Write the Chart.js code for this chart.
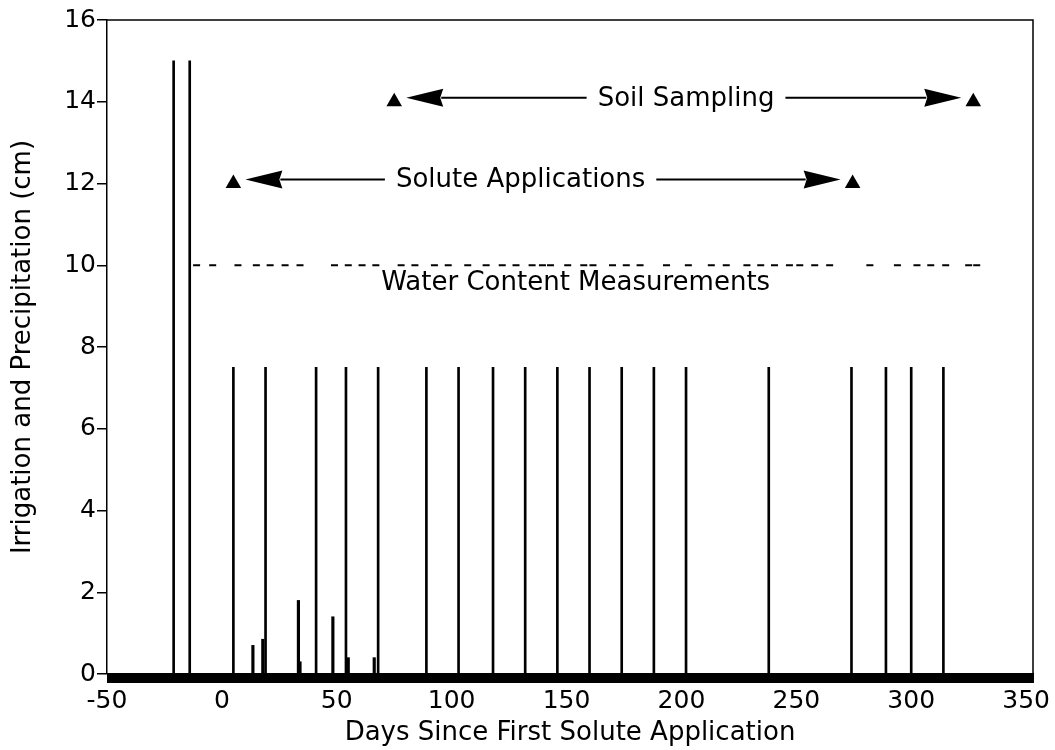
<!DOCTYPE html>
<html>
<head>
<meta charset="utf-8">
<script src="https://cdn.jsdelivr.net/npm/chart.js@4.4.1/dist/chart.umd.min.js"></script>
<style>
  html, body { margin: 0; padding: 0; background: #fff; }
  #wrap { width: 1055px; height: 750px; position: relative; }
</style>
</head>
<body>
<div id="wrap"><canvas id="c"></canvas></div>
<script>
// Pre-season irrigations (cm)
const preIrrigationDays = [-21, -14];
const preIrrigationDepths = [15, 15];

// Scheduled irrigations (cm)
const irrigationDays = [5, 19, 41, 54, 68, 89, 103, 118, 132, 146, 160, 174, 188, 202, 238, 274, 289, 300, 314];
const irrigationDepths = [7.5, 7.5, 7.5, 7.5, 7.5, 7.5, 7.5, 7.5, 7.5, 7.5, 7.5, 7.5, 7.5, 7.5, 7.5, 7.5, 7.5, 7.5, 7.5];

// Rainfall events (cm)
const rainDays = [13.5, 17.8, 33.3, 34, 48.3, 55, 66.3];
const rainDepths = [0.7, 0.85, 1.8, 0.3, 1.4, 0.4, 0.4];

// Solute application and soil sampling windows (days)
const soluteWindow = [5, 274.5];
const soluteLevel = 12;
const samplingWindow = [75, 327];
const samplingLevel = 14;

// Water content measurement days
const waterContentDays = [-11, -4, 7, 15, 21, 27.5, 34, 49, 55, 61, 67, 78, 84, 92.5, 98.5, 107, 115, 122, 128,
  135, 139.5, 143, 150.5, 157.5, 161.5, 170, 176, 182, 193.5, 203, 213, 219.5, 228.5, 234.5, 240.5, 247, 251.5,
  258, 264.5, 282, 294, 302.5, 308.5, 315, 325, 328.5];
const waterContentLevel = 10;

// Axis ranges and labels
const xRange = [-50, 353];
const xStep = 50;
const yRange = [0, 16];
const yStep = 2;
const xTitle = 'Days Since First Solute Application';
const yTitle = 'Irrigation and Precipitation (cm)';

const FONT = 'DejaVu Sans';

const toPts = (xs, ys) => xs.map((x, i) => ({ x: x, y: ys[i] }));

// Labelled arrows spanning each window
const periodLabels = [
  { text: 'Soil Sampling', window: samplingWindow, level: samplingLevel, labelDay: 202 },
  { text: 'Solute Applications', window: soluteWindow, level: soluteLevel, labelDay: 130 }
];
const waterLabel = { text: 'Water Content Measurements', labelDay: 154 };

const annotationPlugin = {
  id: 'periodArrows',
  afterDatasetsDraw(chart) {
    const { ctx, chartArea, scales } = chart;
    const xs = scales.x, ys = scales.y;
    ctx.save();
    ctx.fillStyle = '#000';
    ctx.strokeStyle = '#000';

    // frame: top and right edges, heavy base bar
    ctx.lineWidth = 1.5;
    ctx.beginPath();
    ctx.moveTo(chartArea.left, chartArea.top);
    ctx.lineTo(chartArea.right, chartArea.top);
    ctx.lineTo(chartArea.right, chartArea.bottom);
    ctx.stroke();
    ctx.fillRect(chartArea.left, chartArea.bottom - 1, chartArea.right - chartArea.left + 1, 10);

    ctx.font = '26px "' + FONT + '"';
    ctx.textBaseline = 'middle';
    ctx.textAlign = 'center';
    const headLen = 37, headHalf = 9, tipGap = 12, textGap = 11;
    periodLabels.forEach(p => {
      const y = ys.getPixelForValue(p.level) - 4;
      const tipL = xs.getPixelForValue(p.window[0]) + tipGap;
      const tipR = xs.getPixelForValue(p.window[1]) - tipGap;
      const tc = xs.getPixelForValue(p.labelDay);
      const w = ctx.measureText(p.text).width;
      ctx.fillText(p.text, tc, y + 1);
      ctx.lineWidth = 2;
      ctx.beginPath();
      ctx.moveTo(tipL + headLen - 2, y);
      ctx.lineTo(tc - w / 2 - textGap, y);
      ctx.moveTo(tc + w / 2 + textGap, y);
      ctx.lineTo(tipR - headLen + 2, y);
      ctx.stroke();
      ctx.beginPath();
      ctx.moveTo(tipL, y);
      ctx.lineTo(tipL + headLen, y - headHalf);
      ctx.lineTo(tipL + headLen - 3, y);
      ctx.lineTo(tipL + headLen, y + headHalf);
      ctx.closePath();
      ctx.fill();
      ctx.beginPath();
      ctx.moveTo(tipR, y);
      ctx.lineTo(tipR - headLen, y - headHalf);
      ctx.lineTo(tipR - headLen + 3, y);
      ctx.lineTo(tipR - headLen, y + headHalf);
      ctx.closePath();
      ctx.fill();
    });

    ctx.textBaseline = 'alphabetic';
    ctx.fillText(waterLabel.text, xs.getPixelForValue(waterLabel.labelDay), ys.getPixelForValue(waterContentLevel) + 25);
    ctx.restore();
  }
};

new Chart(document.getElementById('c'), {
  type: 'bar',
  data: {
    datasets: [
      {
        label: 'Pre-season irrigation',
        data: toPts(preIrrigationDays, preIrrigationDepths),
        backgroundColor: '#000', borderWidth: 0, barThickness: 2, grouped: false
      },
      {
        label: 'Irrigation',
        data: toPts(irrigationDays, irrigationDepths),
        backgroundColor: '#000', borderWidth: 0, barThickness: 2, grouped: false
      },
      {
        label: 'Precipitation',
        data: toPts(rainDays, rainDepths),
        backgroundColor: '#000', borderWidth: 0, barThickness: 2.5, grouped: false
      },
      {
        type: 'scatter',
        label: 'Window limits',
        data: [
          { x: soluteWindow[0], y: soluteLevel }, { x: soluteWindow[1], y: soluteLevel },
          { x: samplingWindow[0], y: samplingLevel }, { x: samplingWindow[1], y: samplingLevel }
        ],
        pointStyle: 'triangle', radius: 9, backgroundColor: '#000', borderColor: '#000', borderWidth: 0
      },
      {
        type: 'scatter',
        label: 'Water content',
        data: waterContentDays.map(d => ({ x: d, y: waterContentLevel })),
        pointStyle: 'line', radius: 3.5, borderColor: '#000', borderWidth: 2
      }
    ]
  },
  options: {
    responsive: true,
    maintainAspectRatio: false,
    animation: false,
    layout: { padding: { left: 0, right: 22, top: 20, bottom: 0 } },
    plugins: { legend: { display: false }, tooltip: { enabled: false } },
    scales: {
      x: {
        type: 'linear',
        offset: false,
        min: xRange[0], max: xRange[1],
        grid: { display: false, drawTicks: false },
        border: { display: false },
        ticks: {
          stepSize: xStep, includeBounds: false, autoSkip: false, maxRotation: 0,
          color: '#000', padding: 12, font: { family: FONT, size: 25 }
        },
        title: { display: true, text: xTitle, color: '#000', font: { family: FONT, size: 26 }, padding: { top: 0, bottom: 1 } },
        afterFit(s) { s.height = 76; s.paddingLeft = 0; s.paddingRight = 0; }
      },
      y: {
        min: yRange[0], max: yRange[1],
        grid: { drawOnChartArea: false, drawTicks: true, tickLength: 10, color: '#000', lineWidth: 1.5 },
        border: { display: true, color: '#000', width: 1.5 },
        ticks: { stepSize: yStep, color: '#000', padding: 1, font: { family: FONT, size: 25 } },
        title: { display: true, text: yTitle, color: '#000', font: { family: FONT, size: 26 }, padding: { top: 8, bottom: 0 } },
        afterFit(s) { s.width = 107; s.paddingTop = 0; s.paddingBottom = 0; }
      }
    }
  },
  plugins: [annotationPlugin]
});
</script>
</body>
</html>
